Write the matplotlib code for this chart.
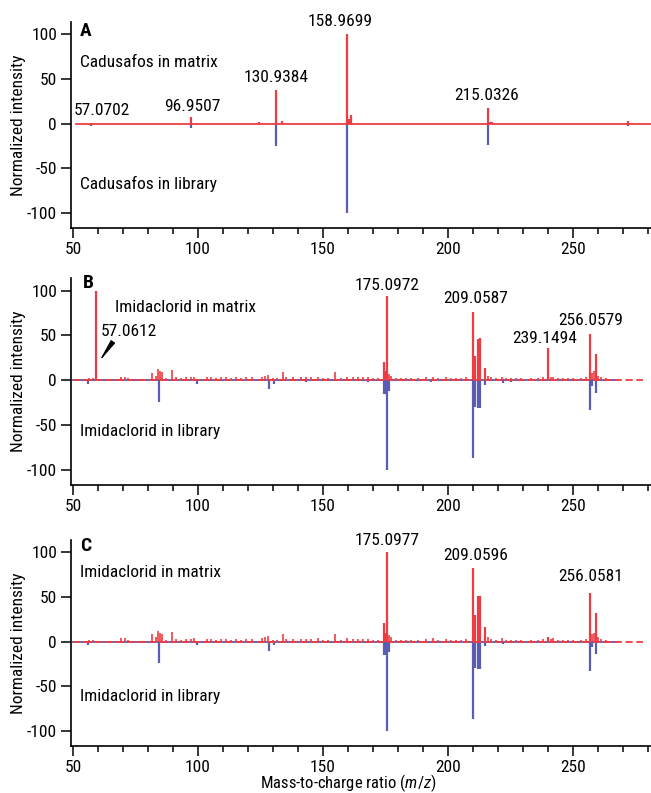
import matplotlib
matplotlib.use('Agg')
import matplotlib.pyplot as plt
from matplotlib import font_manager
from matplotlib.ticker import MultipleLocator

# fonts: a condensed sans, the original looks like Univers Condensed
names = {f.name for f in font_manager.fontManager.ttflist}
font = 'DejaVu Sans'
for cand in ['Roboto Condensed', 'Archivo Narrow', 'PT Sans Narrow', 'Fira Sans Condensed',
             'IBM Plex Sans Condensed', 'Liberation Sans Narrow', 'Roboto']:
    if cand in names:
        font = cand
        break
plt.rcParams['font.family'] = [font, 'DejaVu Sans']
plt.rcParams['mathtext.fontset'] = 'custom'
plt.rcParams['mathtext.it'] = font + ':italic'
plt.rcParams['mathtext.rm'] = font
plt.rcParams['axes.unicode_minus'] = False

RED = '#ee3d42'
BLUE = '#5a5db2'
FS = 12.5

# panel A - cadusafos
a_matrix_mz = [57.1, 97.2, 124.5, 131.2, 133.5, 159.7, 160.5, 161.3, 215.9, 216.8, 217.6, 272.0]
a_matrix_int = [1, 8, 2, 38, 3, 100, 5, 10, 18, 2, 2, 3]
a_library_mz = [57.1, 97.2, 131.2, 159.7, 215.9, 272.0]
a_library_int = [-3, -5, -25, -100, -24, -3]
a_peak_labels = ['57.0702', '96.9507', '130.9384', '158.9699', '215.0326']

# panels B and C - imidaclorid, shared small matrix peaks
imi_noise_mz = [56.5, 58, 62, 65, 67, 69.2, 70.8, 72, 75, 78,
                81.6, 83.2, 84.0, 84.8, 85.6, 87, 89.6, 91, 93, 95,
                97, 98.5, 101, 103.5, 105, 107, 109, 111, 113, 115,
                117, 119, 121.5, 124, 125.5, 126.8, 128, 130, 131.5, 133.8,
                135, 138, 141, 143, 145, 148, 150, 152, 154.6, 157,
                159.6, 162, 164, 166, 168, 170, 172, 176.4, 177.2, 179,
                181, 183, 185, 188, 191, 194, 196, 199, 201, 203,
                205, 207, 215.8, 217, 219, 221.6, 223, 225, 227, 229,
                233, 236, 238, 241, 242, 244, 246, 248, 250, 253,
                255, 257.6, 258.3, 259.8, 261, 263, 265]
imi_noise_int = [2, 2, 1, 1, 1, 4, 4, 2, 1, 1,
                 8, 5, 12, 10, 9, 2, 11, 3, 2, 3,
                 3, 4, 1, 3, 3, 2, 3, 3, 2, 3,
                 2, 3, 3, 1, 4, 5, 6, 2, 2, 9,
                 3, 3, 3, 3, 3, 4, 2, 2, 9, 2,
                 4, 3, 3, 3, 3, 2, 2, 7, 5, 2,
                 2, 2, 2, 2, 3, 4, 2, 3, 2, 2,
                 2, 3, 5, 3, 2, 4, 2, 2, 2, 2,
                 2, 2, 3, 3, 4, 2, 2, 2, 2, 2,
                 3, 8, 10, 5, 3, 2, 1]

b_matrix_mz = [59.2, 174.3, 175.0, 175.7, 209.8, 210.7, 211.8, 212.9, 214.6, 239.9, 256.8, 259.0]
b_matrix_int = [100, 20, 10, 94, 76, 27, 46, 47, 14, 36, 51, 29]
b_peak_labels = ['175.0972', '209.0587', '239.1494', '256.0579']

c_matrix_mz = [174.3, 175.0, 175.7, 209.8, 210.7, 211.8, 212.9, 214.6, 239.9, 256.8, 259.0]
c_matrix_int = [21, 10, 100, 82, 30, 51, 51, 16, 5, 55, 32]
c_peak_labels = ['175.0977', '209.0596', '256.0581']

imi_library_mz = [56.0, 84.4, 99.6, 128.4, 130.4, 143, 168, 174.3, 175.0, 175.7, 176.4,
                  193, 209.8, 210.7, 211.8, 212.9, 214.6, 222, 225, 256.8, 257.6, 259.0]
imi_library_int = [-4, -24, -4, -10, -4, -2, -2, -15, -15, -100, -12,
                    -2, -87, -30, -31, -31, -5, -3, -2, -33, -6, -14]

# baseline extents (m/z)
a_base = (51, 281)
imi_lib_base = (50, 267.5)
imi_mat_base = (50, 278)

fig = plt.figure(figsize=(6.51, 7.93), dpi=100)
left = 71 / 651
width = 1 - left
ax_a = fig.add_axes([left, 0.7125, width, 0.2598])
ax_b = fig.add_axes([left, 0.3884, width, 0.2610])
ax_c = fig.add_axes([left, 0.0593, width, 0.2598])


def style(ax):
    ax.set_xlim(49.2, 281.2)
    ax.set_ylim(-117, 114)
    ax.spines['top'].set_visible(False)
    ax.spines['right'].set_visible(False)
    ax.spines['left'].set_linewidth(1.2)
    ax.spines['bottom'].set_linewidth(1.2)
    ax.xaxis.set_major_locator(MultipleLocator(50))
    ax.xaxis.set_minor_locator(MultipleLocator(10))
    ax.set_yticks([-100, -50, 0, 50, 100])
    ax.tick_params(which='major', direction='out', length=7, width=1.1, labelsize=FS, pad=3)
    ax.tick_params(axis='x', which='major', pad=3)
    ax.tick_params(which='minor', direction='out', length=4, width=1.1)
    ax.set_ylabel('Normalized intensity', fontsize=FS)
    ax.yaxis.set_label_coords(-0.078, 0.5)


for ax in (ax_a, ax_b, ax_c):
    style(ax)

# A
ax_a.plot(a_base, [0, 0], color=RED, lw=1.3, zorder=3)
ax_a.vlines(a_library_mz, 0, a_library_int, color=BLUE, lw=1.6)
ax_a.vlines(a_matrix_mz, 0, a_matrix_int, color=RED, lw=1.6, zorder=4)
ax_a.text(52.8, 104, 'A', fontsize=14, fontweight='bold', va='center', ha='left')
ax_a.text(53, 68, 'Cadusafos in matrix', fontsize=FS, va='center', ha='left')
ax_a.text(53, -68, 'Cadusafos in library', fontsize=FS, va='center', ha='left')
for lab, (x, y) in zip(a_peak_labels, [(61.4, 15), (97.8, 19), (131.4, 52), (157, 115), (215.6, 31)]):
    ax_a.text(x, y, lab, fontsize=FS, ha='center', va='center')


def imidaclorid(ax, mz, inten):
    ax.plot(imi_lib_base, [0, 0], color=BLUE, lw=1.3)
    ax.vlines(imi_library_mz, 0, imi_library_int, color=BLUE, lw=1.6)
    ax.plot(imi_mat_base, [0, 0], color=RED, lw=1.3, ls=(0, (4, 2)), zorder=3)
    ax.vlines(imi_noise_mz, 0, imi_noise_int, color=RED, lw=1.2, zorder=4)
    ax.vlines(mz, 0, inten, color=RED, lw=1.6, zorder=4)


# B
imidaclorid(ax_b, b_matrix_mz, b_matrix_int)
ax_b.text(53.9, 109, 'B', fontsize=14, fontweight='bold', va='center', ha='left')
ax_b.text(66.8, 81, 'Imidaclorid in matrix', fontsize=FS, va='center', ha='left')
ax_b.text(53, -57, 'Imidaclorid in library', fontsize=FS, va='center', ha='left')
ax_b.annotate('57.0612', xy=(60.4, 20.6), xytext=(72.5, 54), fontsize=FS,
              ha='center', va='center',
              arrowprops=dict(arrowstyle='-|>,head_length=1.1,head_width=0.12',
                              color='black', lw=0.8, relpos=(0.24, 0),
                              shrinkA=2, shrinkB=0))
for lab, (x, y) in zip(b_peak_labels, [(175.7, 105.6), (211.2, 91), (238.7, 46), (257.1, 67)]):
    ax_b.text(x, y, lab, fontsize=FS, ha='center', va='center')

# C
imidaclorid(ax_c, c_matrix_mz, c_matrix_int)
ax_c.text(52.8, 107, 'C', fontsize=14, fontweight='bold', va='center', ha='left')
ax_c.text(53, 77, 'Imidaclorid in matrix', fontsize=FS, va='center', ha='left')
ax_c.text(53, -62, 'Imidaclorid in library', fontsize=FS, va='center', ha='left')
for lab, (x, y) in zip(c_peak_labels, [(175.7, 113), (211.2, 97), (256.9, 73)]):
    ax_c.text(x, y, lab, fontsize=FS, ha='center', va='center')

fig.text(348 / 651, 1 - 783 / 793, 'Mass-to-charge ratio ($m/z$)', fontsize=12,
         ha='center', va='center')

fig.savefig('out.png', dpi=100)
